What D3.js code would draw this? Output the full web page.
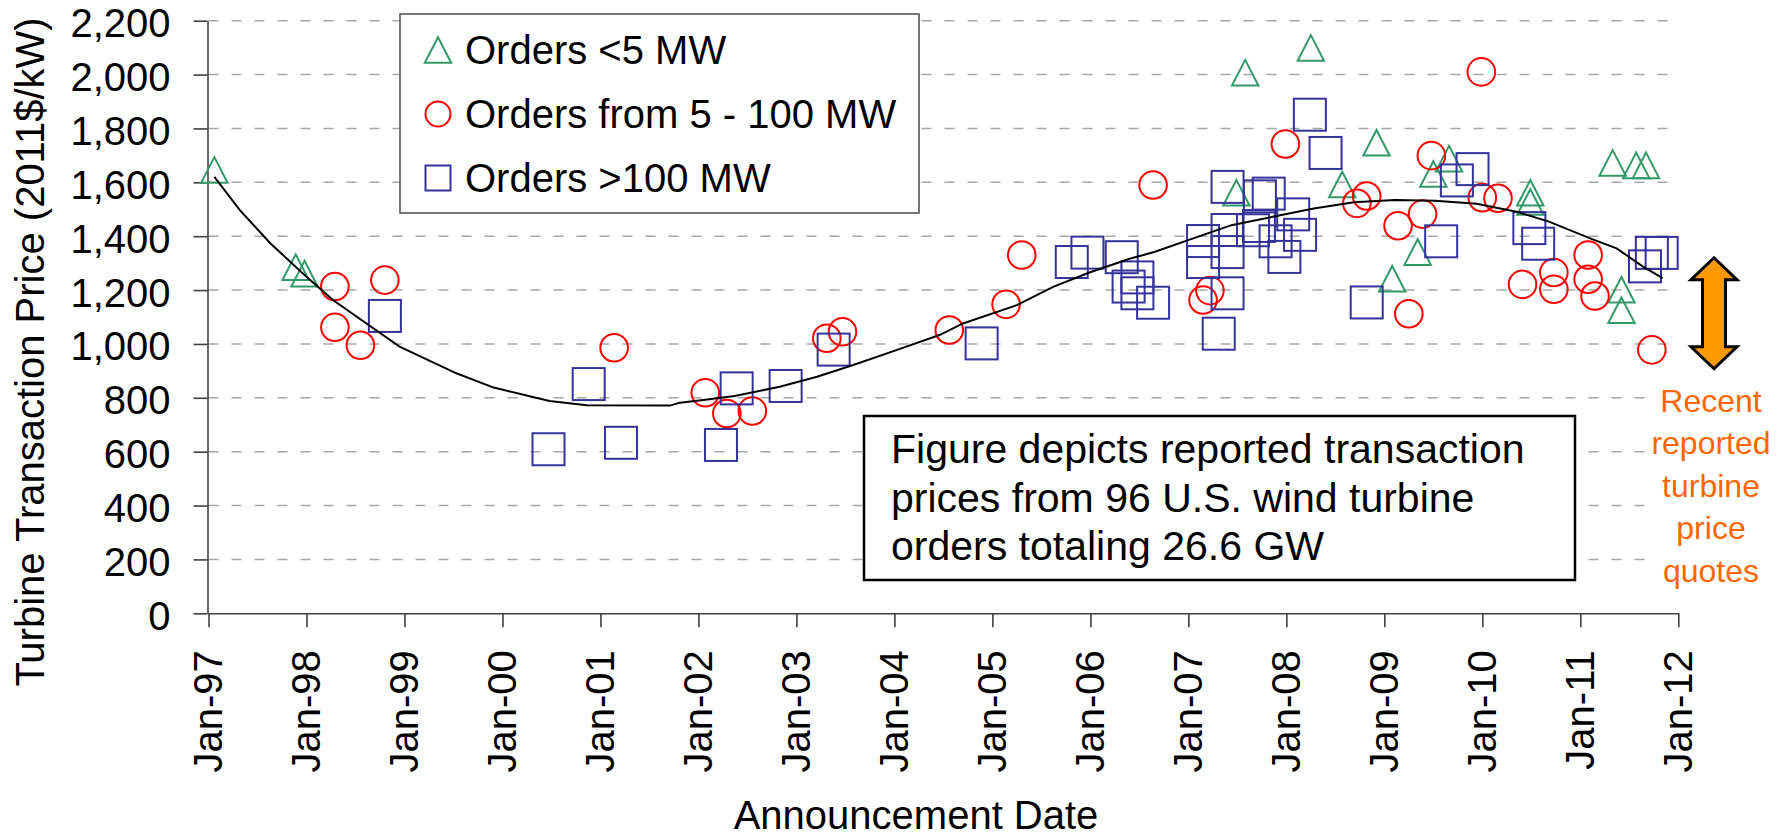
<!DOCTYPE html>
<html>
<head>
<meta charset="utf-8">
<script src="https://d3js.org/d3.v7.min.js"></script>
<style>
  body { margin: 0; background: #fff; }
  text { font-family: 'Liberation Sans', Arial, sans-serif; fill: #000; }
</style>
</head>
<body>
<script>
const width = 1789,
  height = 838;

// [announcement date (decimal year), price in 2011$/kW]
const smallOrders = [
  [1997.06, 1646], [1997.89, 1285], [1997.98, 1261], [2007.49, 1561], [2007.58, 2007],
  [2008.25, 2099], [2008.57, 1592], [2008.92, 1747], [2009.08, 1242], [2009.34, 1341],
  [2009.50, 1631], [2009.66, 1688], [2010.49, 1561], [2010.49, 1527], [2011.33, 1672],
  [2011.42, 1201], [2011.42, 1125], [2011.57, 1663], [2011.67, 1663]
];
const midOrders = [
  [1998.29, 1213], [1998.80, 1237], [1998.29, 1062], [1998.55, 995], [2001.14, 986],
  [2002.07, 819], [2002.29, 742], [2002.55, 751], [2003.31, 1021], [2003.47, 1045],
  [2004.56, 1052], [2005.14, 1147], [2005.30, 1330], [2006.64, 1590], [2007.15, 1163],
  [2007.22, 1198], [2007.99, 1742], [2008.72, 1522], [2008.82, 1549], [2009.14, 1439],
  [2009.25, 1112], [2009.39, 1482], [2009.48, 1699], [2009.99, 2010], [2010.00, 1543],
  [2010.16, 1541], [2010.41, 1221], [2010.73, 1265], [2010.73, 1203], [2011.08, 1330],
  [2011.08, 1240], [2011.15, 1178], [2011.73, 978]
];
const largeOrders = [
  [1998.80, 1104], [2000.47, 609], [2000.88, 851], [2001.21, 633], [2002.23, 625],
  [2002.39, 835], [2002.89, 844], [2003.38, 979], [2004.89, 1002], [2005.81, 1304],
  [2005.97, 1339], [2006.32, 1322], [2006.39, 1213], [2006.48, 1247], [2006.48, 1188],
  [2006.64, 1153], [2007.15, 1382], [2007.15, 1304], [2007.31, 1038], [2007.40, 1583],
  [2007.40, 1423], [2007.40, 1341], [2007.40, 1188], [2007.66, 1422], [2007.72, 1438],
  [2007.73, 1548], [2007.82, 1558], [2007.89, 1381], [2007.98, 1323], [2008.07, 1481],
  [2008.14, 1405], [2008.24, 1851], [2008.40, 1709], [2008.82, 1154], [2009.58, 1381],
  [2009.74, 1607], [2009.90, 1649], [2010.48, 1430], [2010.57, 1372], [2011.66, 1288],
  [2011.73, 1338], [2011.83, 1338]
];
// trend line
const trend = [
  [1997.06, 1620], [1997.32, 1497], [1997.63, 1374], [1998.00, 1249], [1998.27, 1163],
  [1998.78, 1033], [1998.95, 990], [1999.53, 891], [1999.91, 838], [2000.48, 788],
  [2000.86, 772], [2001.71, 771], [2001.81, 782], [2002.05, 792], [2002.37, 807],
  [2002.83, 841], [2003.21, 878], [2003.58, 922], [2004.02, 977], [2004.46, 1033],
  [2004.70, 1076], [2005.25, 1144], [2005.62, 1212], [2005.99, 1265], [2006.40, 1316],
  [2006.66, 1342], [2007.02, 1388], [2007.44, 1441], [2007.86, 1472], [2008.28, 1503],
  [2008.69, 1526], [2009.11, 1534], [2009.52, 1532], [2009.94, 1520], [2010.35, 1491],
  [2010.68, 1454], [2011.10, 1392], [2011.37, 1355], [2011.64, 1287], [2011.84, 1244]
];

const yTicks = [0, 200, 400, 600, 800, 1000, 1200, 1400, 1600, 1800, 2000, 2200];
const xTicks = [1997, 1998, 1999, 2000, 2001, 2002, 2003, 2004, 2005, 2006, 2007, 2008, 2009, 2010, 2011, 2012];
const seriesNames = ['Orders <5 MW', 'Orders from 5 - 100 MW', 'Orders >100 MW'];
const noteLines = ['Figure depicts reported transaction', 'prices from 96 U.S. wind turbine', 'orders totaling 26.6 GW'];
const quoteLines = ['Recent', 'reported', 'turbine', 'price', 'quotes'];
const quoteRange = [1320, 908]; // price span of the orange arrow

const green = '#339966',
  red = '#ff0000',
  blue = '#333399',
  orange = '#ff6600';

const x = d3.scaleLinear().domain([1997, 2012]).range([208.5, 1678.3]);
const y = d3.scaleLinear().domain([0, 2200]).range([613.3, 20.7]);

const svg = d3
  .select('body')
  .append('svg')
  .attr('width', width)
  .attr('height', height);

// dashed gridlines
svg
  .append('g')
  .selectAll('line')
  .data(yTicks.filter(d => d > 0))
  .join('line')
  .attr('x1', x(1997))
  .attr('x2', x(2012))
  .attr('y1', d => y(d))
  .attr('y2', d => y(d))
  .attr('stroke', '#a6a6a6')
  .attr('stroke-width', 1.6)
  .attr('stroke-dasharray', '10,13');

// axes
const yAxis = svg
  .append('g')
  .attr('transform', `translate(${x(1997) - 1},0)`)
  .call(
    d3.axisLeft(y).tickValues(yTicks).tickSize(14).tickSizeOuter(0).tickPadding(23).tickFormat(d3.format(','))
  );
yAxis.selectAll('text').attr('font-size', 40).attr('dy', '0.4em');

const xAxis = svg
  .append('g')
  .attr('transform', `translate(0,${y(0)})`)
  .call(
    d3.axisBottom(x).tickValues(xTicks).tickSize(14).tickSizeOuter(0)
      .tickFormat(d => 'Jan-' + String(d).slice(2))
  );
xAxis
  .selectAll('text')
  .attr('font-size', 40)
  .attr('transform', 'rotate(-90)')
  .attr('text-anchor', 'end')
  .attr('x', -37)
  .attr('y', 13)
  .attr('dy', null);

svg.selectAll('.domain, .tick line').attr('stroke', '#404040').attr('stroke-width', 1.6);

// markers
const triPath = 'M0,-12.8L13.2,12.8L-13.2,12.8Z';

svg
  .append('g')
  .selectAll('path')
  .data(smallOrders)
  .join('path')
  .attr('d', triPath)
  .attr('transform', d => `translate(${x(d[0])},${y(d[1])})`)
  .attr('fill', 'none')
  .attr('stroke', green)
  .attr('stroke-width', 2);

svg
  .append('g')
  .selectAll('circle')
  .data(midOrders)
  .join('circle')
  .attr('cx', d => x(d[0]))
  .attr('cy', d => y(d[1]))
  .attr('r', 13.8)
  .attr('fill', 'none')
  .attr('stroke', red)
  .attr('stroke-width', 2);

svg
  .append('g')
  .selectAll('rect')
  .data(largeOrders)
  .join('rect')
  .attr('x', d => x(d[0]) - 16)
  .attr('y', d => y(d[1]) - 16)
  .attr('width', 32)
  .attr('height', 32)
  .attr('fill', 'none')
  .attr('stroke', blue)
  .attr('stroke-width', 2);

// trend line
svg
  .append('path')
  .datum(trend)
  .attr('d', d3.line().x(d => x(d[0])).y(d => y(d[1])))
  .attr('fill', 'none')
  .attr('stroke', '#000')
  .attr('stroke-width', 2);

// legend
const legend = svg.append('g');
legend
  .append('rect')
  .attr('x', 400)
  .attr('y', 14)
  .attr('width', 519)
  .attr('height', 199)
  .attr('fill', '#fff')
  .attr('stroke', '#555')
  .attr('stroke-width', 1.6);

const rows = legend
  .selectAll('g')
  .data(seriesNames)
  .join('g')
  .attr('transform', (d, i) => `translate(438,${50 + i * 64})`);

rows.filter((d, i) => i === 0).append('path').attr('d', triPath).attr('fill', 'none').attr('stroke', green).attr('stroke-width', 2);
rows.filter((d, i) => i === 1).append('circle').attr('r', 12.5).attr('fill', 'none').attr('stroke', red).attr('stroke-width', 2);
rows.filter((d, i) => i === 2).append('rect').attr('x', -12.5).attr('y', -12.5).attr('width', 25).attr('height', 25)
  .attr('fill', 'none').attr('stroke', blue).attr('stroke-width', 2);

rows
  .append('text')
  .attr('x', 27)
  .attr('y', 14)
  .attr('font-size', 40)
  .text(d => d);

// note box
svg
  .append('rect')
  .attr('x', 864)
  .attr('y', 416)
  .attr('width', 711)
  .attr('height', 164)
  .attr('fill', '#fff')
  .attr('stroke', '#000')
  .attr('stroke-width', 2.5);

svg
  .append('g')
  .selectAll('text')
  .data(noteLines)
  .join('text')
  .attr('x', 891)
  .attr('y', (d, i) => 463 + i * 48.5)
  .attr('font-size', 41)
  .text(d => d);

// recent quotes annotation
svg.append('rect').attr('x', 1646).attr('y', 384).attr('width', 143).attr('height', 210).attr('fill', '#fff');

svg
  .append('g')
  .selectAll('text')
  .data(quoteLines)
  .join('text')
  .attr('x', 1711)
  .attr('y', (d, i) => 411.5 + i * 42.5)
  .attr('text-anchor', 'middle')
  .attr('font-size', 32)
  .style('fill', orange)
  .text(d => d);

const arrowTop = y(quoteRange[0]),
  arrowBot = y(quoteRange[1]),
  arrowX = 1714;
const arrow = [
  [arrowX, arrowTop], [arrowX + 23, arrowTop + 22], [arrowX + 11.5, arrowTop + 22],
  [arrowX + 11.5, arrowBot - 22], [arrowX + 23, arrowBot - 22], [arrowX, arrowBot],
  [arrowX - 23, arrowBot - 22], [arrowX - 11.5, arrowBot - 22], [arrowX - 11.5, arrowTop + 22],
  [arrowX - 23, arrowTop + 22]
];
svg
  .append('path')
  .attr('d', d3.line()(arrow) + 'Z')
  .attr('fill', '#ff9900')
  .attr('stroke', '#000')
  .attr('stroke-width', 3)
  .attr('stroke-linejoin', 'miter');

// axis titles
svg
  .append('text')
  .attr('x', 916)
  .attr('y', 829)
  .attr('text-anchor', 'middle')
  .attr('font-size', 40)
  .text('Announcement Date');

svg
  .append('text')
  .attr('transform', 'translate(44,352) rotate(-90)')
  .attr('text-anchor', 'middle')
  .attr('font-size', 40)
  .text('Turbine Transaction Price (2011$/kW)');
</script>
</body>
</html>
